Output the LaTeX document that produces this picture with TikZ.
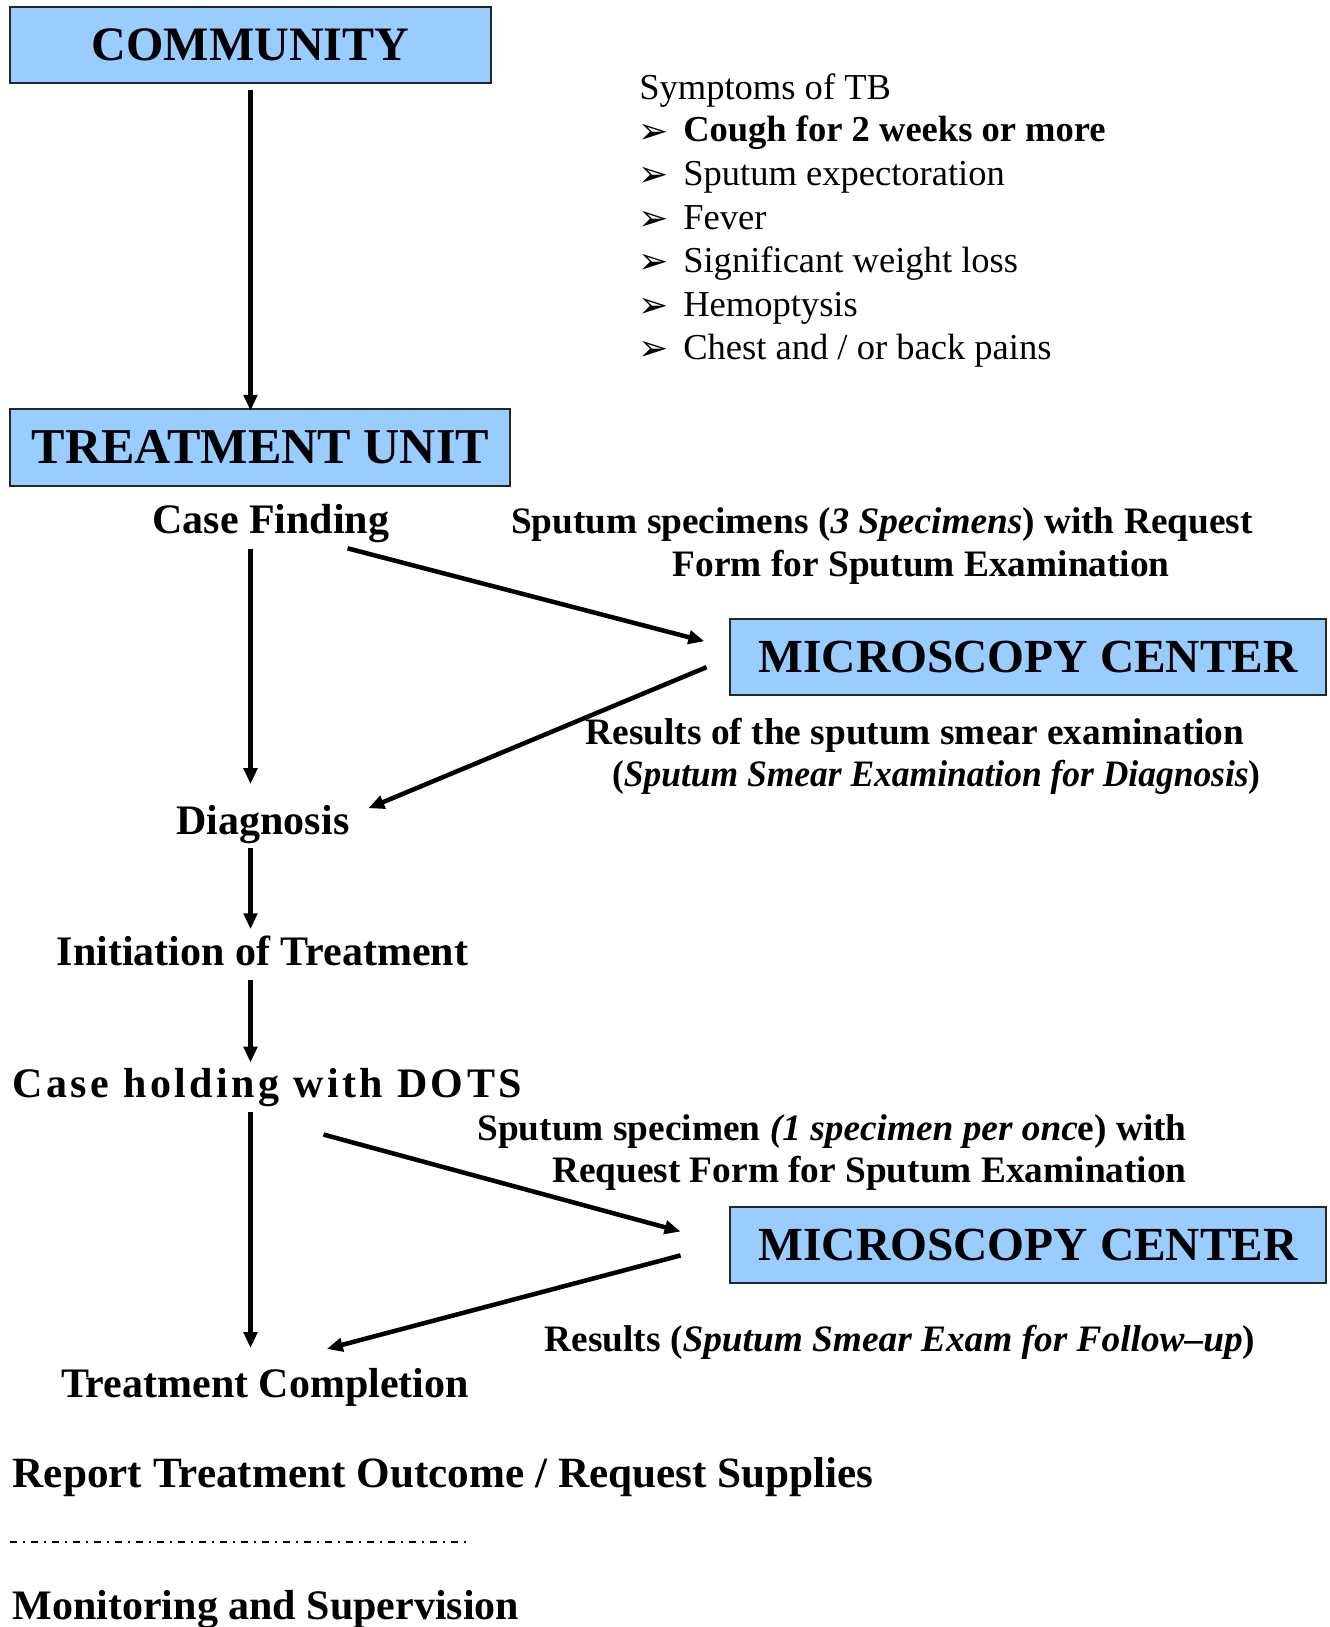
\documentclass[tikz,border=0pt]{standalone}
\usepackage{fontspec}
\usepackage{graphicx}
\setmainfont{Liberation Serif}
\newfontfamily\dejavu{DejaVu Sans}
\usetikzlibrary{arrows.meta,calc}
\definecolor{boxblue}{RGB}{153,204,255}
\newcommand\symbul{\makebox[33.75pt][l]{\raisebox{-1pt}{\dejavu\fontsize{27}{27}\selectfont ➢}}}
\makeatletter
\def\spreadword#1{\spread@#1\@nil}
\def\spread@#1{\ifx#1\@nil\else#1\kern2.6pt\relax\expandafter\spread@\fi}
\makeatother
\begin{document}
\begin{tikzpicture}[x=0.75pt,y=-0.75pt,
  box/.style={draw=black!85,line width=1.5pt,fill=boxblue,inner sep=0pt,
    font=\bfseries\fontsize{36}{36}\selectfont},
  lbl/.style={inner sep=0pt,anchor=base,font=\bfseries\fontsize{31.5}{36}\selectfont},
  note/.style={inner sep=0pt,anchor=base,font=\bfseries\fontsize{28}{30}\selectfont},
  sym/.style={inner sep=0pt,anchor=base west,font=\fontsize{27.4}{30}\selectfont},
  arr/.style={line width=3.4pt,-{Triangle[length=12pt,width=10pt]}},
  ddline/.style={line width=1.3pt,dash pattern=on 5.25pt off 4.5pt on 1.5pt off 4.5pt}
]
\useasboundingbox (0,0) rectangle (1329,1627);

% boxes
\node[box,minimum width=360.2pt,minimum height=56.8pt] (comm) at (250.5,45.2) {COMMUNITY};
\node[box,minimum width=375pt,minimum height=57.6pt,font=\bfseries\fontsize{37.6}{37.6}\selectfont] (tu) at (260.4,447.2) {TREATMENT UNIT};
\node[box,minimum width=446.7pt,minimum height=56.8pt,font=\bfseries\fontsize{35.6}{35.6}\selectfont] (mc1) at (1028.2,657.25) {MICROSCOPY CENTER};
\node[box,minimum width=446.7pt,minimum height=57.6pt,font=\bfseries\fontsize{35.6}{35.6}\selectfont] (mc2) at (1028.2,1245) {MICROSCOPY CENTER};

% symptoms
\node[sym] (s0) at (639,99) {Symptoms of TB};
\node[sym] (s1) at (638,142) {\symbul\textbf{Cough for 2 weeks or more}};
\node[sym] (s2) at (638,185.5) {\symbul Sputum expectoration};
\node[sym] (s3) at (638,229) {\symbul Fever};
\node[sym] (s4) at (638,272.5) {\symbul Significant weight loss};
\node[sym] (s5) at (638,316) {\symbul Hemoptysis};
\node[sym] (s6) at (638,359.5) {\symbul Chest and / or back pains};

% main column
\node[lbl] (cf) at (270.8,533) {Case Finding};
\node[lbl] (diag) at (263,834) {Diagnosis};
\node[lbl] (init) at (262.5,965.5) {Initiation of Treatment};
\node[lbl,anchor=base west] (chd) at (12.4,1097) {\spreadword{Case}\ \spreadword{holding}\ \spreadword{with}\ \spreadword{DOT}S};
\node[lbl] (tc) at (265,1397) {Treatment Completion};
\node[lbl,anchor=base west,font=\bfseries\fontsize{32.4}{36}\selectfont] (rep) at (12.4,1487) {Report Treatment Outcome / Request Supplies};
\node[lbl,anchor=base west] (mon) at (12.4,1619) {Monitoring and Supervision};

% labels
\node[note] (n1a) at (881.9,533) {Sputum specimens (\textit{3 Specimens}) with Request};
\node[note] (n1b) at (921.3,576) {Form for Sputum Examination};
\node[note] (n2a) at (915,744) {Results of the sputum smear examination};
\node[note] (n2b) at (936.3,786.5) {\scalebox{0.95}[1]{(\textit{Sputum Smear Examination for Diagnosis})}};
\node[note,anchor=base east] (n3a) at (1187,1140) {Sputum specimen \textit{(1 specimen per onc}e) with};
\node[note,anchor=base east] (n3b) at (1187,1182) {Request Form for Sputum Examination};
\node[note,anchor=base east] (n4) at (1255.4,1351) {Results (\textit{Sputum Smear Exam for Follow--up})};

% vertical arrows
\draw[arr] ($(comm.south)+(0,6)$) -- ($(tu.north -| comm.south)+(0,3)$);
\draw[arr] ($(cf.south -| comm.south)+(0,6)$) -- ($(diag.north -| comm.south)+(0,-20.5)$);
\draw[arr] ($(diag.south -| comm.south)+(0,4.6)$) -- ($(init.north -| comm.south)+(0,-6.4)$);
\draw[arr] ($(init.south -| comm.south)+(0,13.5)$) -- ($(chd.north -| comm.south)+(0,-5)$);
\draw[arr] ($(chd.south -| comm.south)+(0,5)$) -- ($(tc.north -| comm.south)+(0,-19.5)$);

% diagonal arrows
\draw[arr] ($(cf.south)+(76.8,5.8)$) -- ($(mc1.west)+(-25,-16)$);
\draw[arr] ($(mc1.west)+(-22.8,9.9)$) -- ($(diag.east)+(18.7,-15.8)$);
\draw[arr] ($(chd.south -| comm.south)+(73,28)$) -- ($(mc2.west)+(-48.8,-13.5)$);
\draw[arr] ($(mc2.west)+(-48.8,10.4)$) -- ($(tc.north)+(61.8,-18.7)$);

% dash-dot separator
\coordinate (dl1) at (10.4,1541.7);
\coordinate (dl2) at (467,1541.7);
\draw[ddline] (dl1) -- (dl2);
\end{tikzpicture}
\end{document}
